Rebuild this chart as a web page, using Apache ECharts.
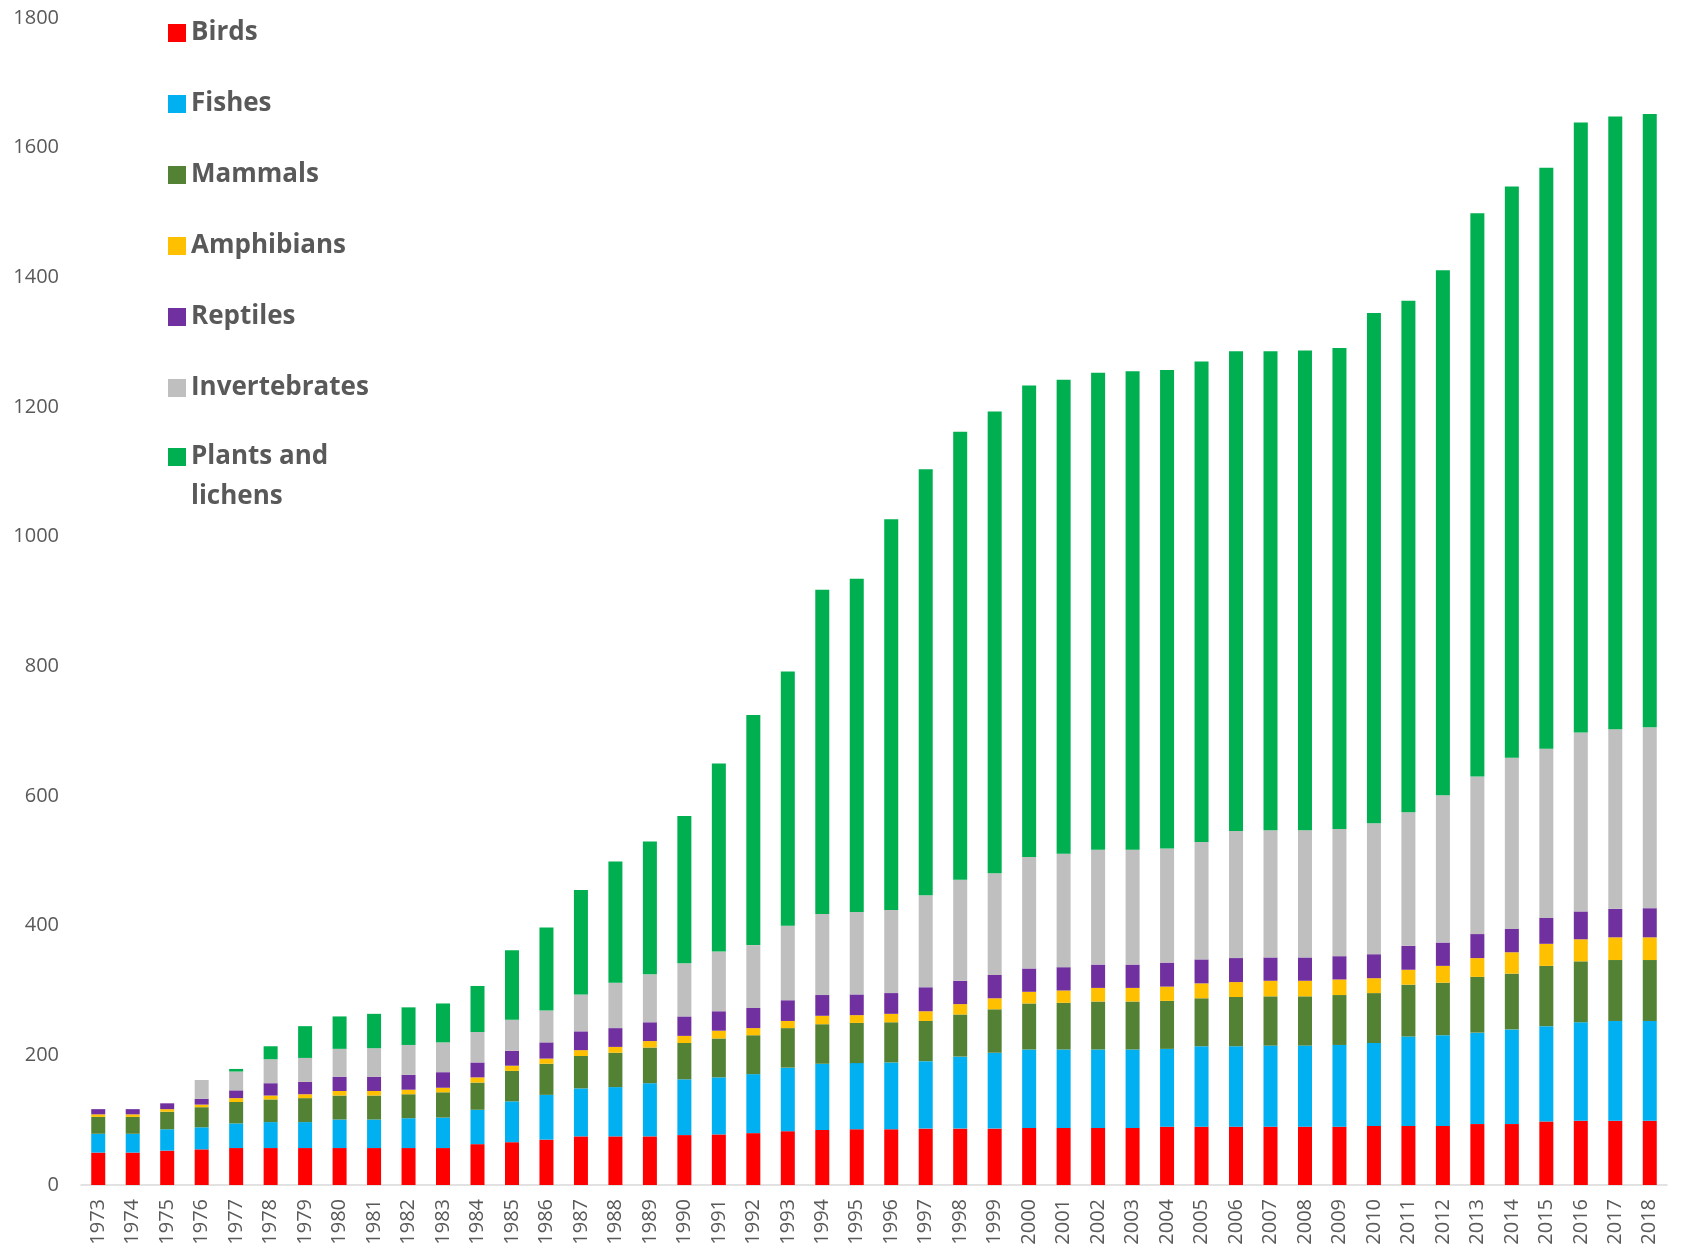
<!DOCTYPE html>
<html>
<head>
<meta charset="utf-8">
<script src="https://cdn.jsdelivr.net/npm/echarts@6/dist/echarts.min.js"></script>
<style>
  html, body { margin: 0; padding: 0; background: #fff; }
  #chart { width: 1683px; height: 1253px; }
</style>
</head>
<body>
<div id="chart"></div>
<script>
const years = [];
for (let y = 1973; y <= 2018; y++) years.push(String(y));

const birds = [50, 50, 53, 55, 57, 57, 57, 57, 57, 57, 57, 63, 66, 70, 75, 75, 75, 77, 78, 80, 83, 85, 86, 86, 87, 87, 87, 88, 88, 88, 88, 90, 90, 90, 90, 90, 90, 91, 91, 91, 94, 94, 98, 99, 99, 99];
const fishes = [29, 29, 33, 34, 38, 40, 40, 44, 44, 46, 47, 53, 63, 69, 74, 76, 82, 86, 88, 91, 98, 102, 102, 103, 104, 111, 117, 121, 121, 121, 121, 120, 124, 124, 125, 125, 126, 128, 138, 140, 141, 146, 147, 152, 154, 154];
const mammals = [26, 26, 27, 31, 33, 35, 37, 37, 37, 37, 39, 42, 47, 48, 50, 53, 55, 56, 60, 60, 61, 61, 62, 62, 62, 65, 67, 71, 72, 74, 74, 74, 74, 76, 76, 76, 77, 77, 80, 81, 86, 86, 93, 94, 94, 94];
const amphibians = [4, 4, 4, 4, 6, 6, 6, 7, 7, 7, 7, 8, 8, 8, 9, 9, 10, 11, 12, 11, 11, 13, 12, 13, 15, 16, 17, 18, 19, 21, 21, 22, 23, 23, 24, 24, 24, 23, 23, 26, 29, 33, 34, 34, 35, 35];
const reptiles = [8, 8, 9, 9, 12, 19, 19, 22, 22, 23, 24, 23, 23, 25, 29, 29, 29, 30, 30, 31, 32, 32, 32, 32, 37, 36, 36, 36, 36, 36, 36, 37, 37, 37, 36, 36, 36, 37, 37, 36, 37, 36, 40, 43, 44, 45];
const invertebrates = [0, 0, 0, 29, 29, 37, 37, 43, 44, 46, 46, 47, 48, 49, 57, 70, 74, 82, 92, 97, 115, 125, 127, 128, 142, 156, 157, 172, 175, 177, 177, 176, 181, 196, 196, 196, 196, 202, 206, 227, 243, 264, 261, 276, 277, 279];
const plants = [0, 0, 0, 0, 4, 20, 49, 50, 53, 58, 60, 71, 107, 128, 161, 187, 205, 227, 290, 355, 392, 500, 514, 603, 657, 691, 712, 727, 731, 736, 738, 738, 741, 740, 739, 740, 742, 787, 789, 810, 869, 881, 896, 941, 945, 946];

const seriesNames = ['Birds', 'Fishes', 'Mammals', 'Amphibians', 'Reptiles', 'Invertebrates', 'Plants and lichens'];
const seriesData = [birds, fishes, mammals, amphibians, reptiles, invertebrates, plants];
const colors = ['#FF0000', '#00B0F0', '#548235', '#FFC000', '#7030A0', '#BFBFBF', '#00B050'];

const myChart = echarts.init(document.getElementById('chart'));

// shared legend look
const legendBase = {
  orient: 'vertical',
  left: 168,
  padding: 0,
  itemWidth: 18,
  itemHeight: 18,
  itemGap: 31,
  icon: 'rect',
  selectedMode: false,
  textStyle: {
    fontFamily: 'Open Sans',
    fontWeight: 'bold',
    fontSize: 26,
    lineHeight: 40,
    color: '#595959'
  }
};

const option = {
  animation: false,
  color: colors,
  grid: {
    left: 81,
    right: 16,
    top: 18,
    bottom: 68
  },
  legend: [
    Object.assign({}, legendBase, {
      top: 13,
      data: seriesNames.slice(0, 6)
    }),
    // last item wraps; an empty first line keeps the icon beside "Plants and"
    Object.assign({}, legendBase, {
      top: 397,
      data: seriesNames.slice(6),
      formatter: function () {
        return '\u00a0\nPlants and\nlichens';
      }
    })
  ],
  xAxis: {
    type: 'category',
    data: years,
    axisLine: { lineStyle: { color: '#D9D9D9', width: 1.5 } },
    axisTick: { show: false },
    axisLabel: {
      interval: 0,
      rotate: 90,
      margin: 14,
      fontFamily: 'Open Sans',
      fontSize: 20,
      color: '#595959'
    }
  },
  yAxis: {
    type: 'value',
    min: 0,
    max: 1800,
    interval: 200,
    axisLine: { show: false },
    axisTick: { show: false },
    splitLine: { show: false },
    axisLabel: {
      margin: 22,
      fontFamily: 'Open Sans',
      fontSize: 20,
      color: '#595959',
      formatter: function (v) { return String(v); }
    }
  },
  series: seriesNames.map(function (name, i) {
    return {
      name: name,
      type: 'bar',
      stack: 'total',
      barWidth: 14,
      data: seriesData[i]
    };
  })
};

option && myChart.setOption(option);
</script>
</body>
</html>
